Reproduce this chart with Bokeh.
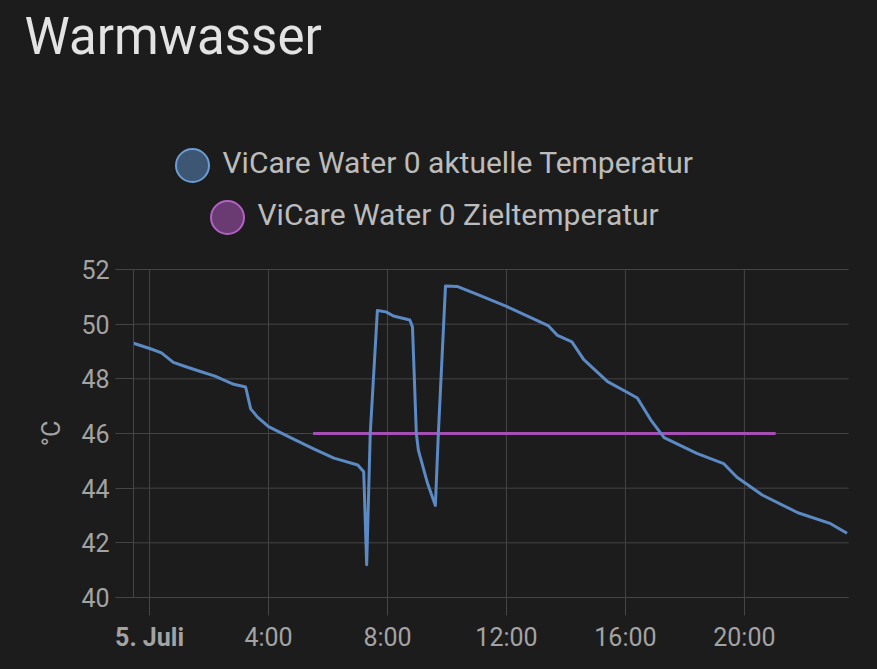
from bokeh.plotting import figure
from bokeh.models import Range1d, FixedTicker, LinearAxis, ColumnDataSource
from bokeh.core.properties import value
from bokeh.embed import file_html
from bokeh.resources import INLINE

# ---------------- data ----------------
title_text = "Warmwasser"
series_names = ["ViCare Water 0 aktuelle Temperatur", "ViCare Water 0 Zieltemperatur"]
y_label = "°C"

# hours since 5. Juli 0:00
actual_hours = [-0.54, 0.03, 0.4, 0.8, 1.2, 1.71, 2.2, 2.83, 3.23, 3.4, 3.63, 4.0, 4.74, 5.5,
                6.2, 7.0, 7.2, 7.3, 7.42, 7.66, 7.95, 8.2, 8.75, 8.84, 8.97, 9.04, 9.34, 9.61,
                9.71, 9.95, 10.34, 11.1, 12.0, 12.8, 13.4, 13.7, 14.2, 14.6, 15.4, 16.07, 16.4,
                16.85, 17.3, 18.4, 19.3, 19.75, 20.6, 21.8, 22.9, 23.45]
actual_temp = [49.3, 49.1, 48.95, 48.6, 48.45, 48.27, 48.1, 47.8, 47.7, 46.9, 46.6, 46.25, 45.85, 45.45,
               45.1, 44.85, 44.6, 41.2, 46.0, 50.5, 50.45, 50.3, 50.15, 49.9, 46.0, 45.38, 44.2, 43.37,
               46.0, 51.4, 51.38, 51.05, 50.65, 50.25, 49.95, 49.6, 49.35, 48.7, 47.9, 47.5, 47.3,
               46.5, 45.85, 45.27, 44.9, 44.4, 43.75, 43.1, 42.7, 42.35]

target_hours = [5.5, 21.05]
target_temp = [46.0, 46.0]

x_ticks = [0, 4, 8, 12, 16, 20]
x_tick_labels = ["5. Juli", "4:00", "8:00", "12:00", "16:00", "20:00"]
y_ticks = [40, 42, 44, 46, 48, 50, 52]
x_span = [-0.54, 23.5]   # visible time window (hours)

# ---------------- styles ----------------
BG = "#1c1c1c"
GRID = "#454545"
TICK_TXT = "#a3a3a3"
LEG_TXT = "#bcbcbc"
TITLE_TXT = "#e3e3e3"
BLUE = "#5c8ac4"
BLUE_FILL = "#3c5674"
BLUE_EDGE = "#6c9cd4"
PURPLE = "#a54fb5"
PURPLE_FILL = "#6a3a73"
PURPLE_EDGE = "#b262c3"
FONT = "Roboto"

# ---------------- geometry (page pixels) ----------------
W, H = 877, 669
DATA_L, DATA_R = 133, 848            # page x of the data area edges
DATA_T, DATA_B = 269, 597            # page y of the 52 and 40 gridlines
X0, X1 = x_span
Y0, Y1 = y_ticks[0], y_ticks[-1]
ppx = (DATA_R - DATA_L) / (X1 - X0)
ppu = (DATA_B - DATA_T) / (Y1 - Y0)
x_lo = X0 - DATA_L / ppx
x_hi = X1 + (W - DATA_R) / ppx
y_hi = Y1 + DATA_T / ppu
y_lo = Y0 - (H - DATA_B) / ppu

# the frame covers the whole canvas; axes are pinned to the data area
p = figure(width=W, height=H, output_backend="svg", toolbar_location=None,
           x_range=Range1d(x_lo, x_hi), y_range=Range1d(y_lo, y_hi), min_border=0)
p.background_fill_color = BG
p.border_fill_color = BG
p.outline_line_color = None
p.title.visible = False

# pixel-space ranges for title and legend
p.extra_x_ranges = {"px": Range1d(0, W)}
p.extra_y_ranges = {"px": Range1d(H, 0)}

# title
p.text(x=[24], y=[36], text=[title_text], text_font=value(FONT), text_font_size="51px",
       text_color=TITLE_TXT, text_baseline="alphabetic", text_align="left",
       x_range_name="px", y_range_name="px")

# legend rows (centred, one per series)
leg_src = ColumnDataSource(dict(
    cx=[192, 227], cy=[165, 217],
    tx=[222, 257], ty=[162, 214],
    name=series_names,
    fill=[BLUE_FILL, PURPLE_FILL], edge=[BLUE_EDGE, PURPLE_EDGE]))
p.scatter(x="cx", y="cy", size=33, fill_color="fill", line_color="edge", line_width=2,
          source=leg_src, x_range_name="px", y_range_name="px")
p.text(x="tx", y="ty", text="name", text_font=value(FONT), text_font_size="30px",
       text_color=LEG_TXT, text_baseline="alphabetic", text_align="left", source=leg_src,
       x_range_name="px", y_range_name="px")

# grid lines limited to the data area
p.grid.visible = False
p.segment(x0=x_ticks, x1=x_ticks, y0=[Y0] * len(x_ticks), y1=[Y1] * len(x_ticks),
          line_color=GRID, line_width=1)
p.segment(x0=[X0] * len(y_ticks), x1=[X1] * len(y_ticks), y0=y_ticks, y1=y_ticks,
          line_color=GRID, line_width=1)

# series
p.line(target_hours, target_temp, line_color=PURPLE, line_width=3)
p.line(actual_hours, actual_temp, line_color=BLUE, line_width=3, line_join="round")

# axes (pinned)
p.xaxis.fixed_location = Y0
p.xaxis.ticker = FixedTicker(ticks=x_ticks)
p.xaxis.major_label_overrides = {t: (l if i > 0 else "") for i, (t, l) in enumerate(zip(x_ticks, x_tick_labels))}
p.xaxis.bounds = (X0, X1)
p.yaxis.fixed_location = X0
p.yaxis.ticker = FixedTicker(ticks=y_ticks)
p.yaxis.bounds = (Y0, Y1)

for ax in (p.xaxis, p.yaxis):
    ax.axis_line_color = GRID
    ax.major_tick_line_color = GRID
    ax.major_tick_out = 18
    ax.major_tick_in = 0
    ax.minor_tick_line_color = None
    ax.major_label_text_font = FONT
    ax.major_label_text_font_size = "25px"
    ax.major_label_text_color = TICK_TXT
p.xaxis.major_label_standoff = 7
p.yaxis.major_label_standoff = 6
p.yaxis.axis_label = y_label
p.yaxis.axis_label_text_font = FONT
p.yaxis.axis_label_text_font_size = "25px"
p.yaxis.axis_label_text_font_style = "normal"
p.yaxis.axis_label_text_color = TICK_TXT
p.yaxis.axis_label_standoff = 12

# bold day label, drawn by a second axis pinned on the bottom line
day_axis = LinearAxis(fixed_location=Y0, ticker=FixedTicker(ticks=x_ticks[:1]),
                      major_label_overrides={x_ticks[0]: x_tick_labels[0]})
day_axis.axis_line_color = None
day_axis.major_tick_line_color = None
day_axis.major_tick_out = 18
day_axis.major_tick_in = 0
day_axis.minor_tick_line_color = None
day_axis.major_label_standoff = 7
day_axis.major_label_text_font = FONT
day_axis.major_label_text_font_size = "25px"
day_axis.major_label_text_font_style = "bold"
day_axis.major_label_text_color = TICK_TXT
p.add_layout(day_axis, "below")

html = file_html(p, INLINE)
html = html.replace("</head>", "<style>html,body{background:#1c1c1c;}</style></head>")
open("out.html", "w").write(html)
